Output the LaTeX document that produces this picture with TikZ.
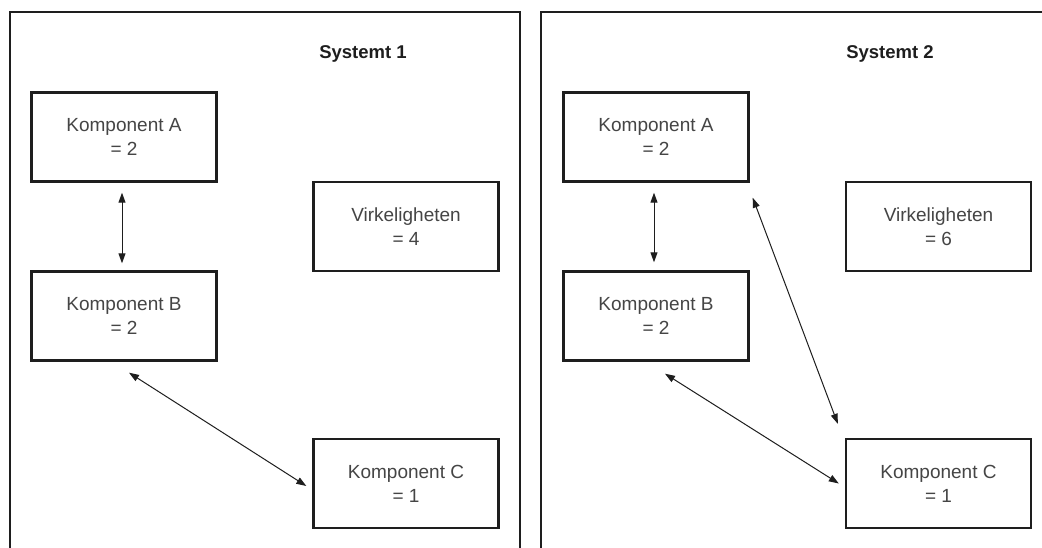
\documentclass[tikz,border=0pt]{standalone}
\usepackage{fontspec}
\setmainfont{Liberation Sans}
\usetikzlibrary{arrows.meta}
\definecolor{inkline}{HTML}{1E1E1E}
\definecolor{inktext}{HTML}{454545}
\begin{document}
\begin{tikzpicture}[x=1pt,y=-1pt,
  panel/.style={draw=inkline,line width=2.6pt},
  compbox/.style={draw=inkline,line width=2.4pt,rectangle,minimum width=185pt,minimum height=89pt,
    inner sep=0pt,align=center,text=inktext,font=\fontsize{19}{24}\selectfont},
  title/.style={text=inkline,font=\fontsize{18.5}{22}\selectfont\bfseries},
  link/.style={draw=inkline,line width=1pt,{Triangle[length=10pt,width=7pt]}-{Triangle[length=10pt,width=7pt]}}]
\useasboundingbox (0,0) rectangle (1042,548);
\fill[white] (0,0) rectangle (1042,548);
\clip (0,0) rectangle (1042,548);

% the two system frames, open at the lower and right page edges
\draw[panel] (10,570) -- (10,12) -- (520,12) -- (520,570);
\draw[panel] (541,570) -- (541,12) -- (1070,12);

% system 1
\node[title] (t1) at (363,54) {Systemt 1};
\node[compbox] (a1) at (124,137) {Komponent A\\= 2};
\node[compbox] (b1) at (124,316) {Komponent B\\= 2};
\node[compbox] (v1) at (406,226.5) {Virkeligheten\\= 4};
\node[compbox] (c1) at (406,483.5) {Komponent C\\= 1};
\draw[link] ([xshift=-2pt,yshift=-10pt]a1.south) -- ([xshift=-2pt,yshift=7pt]b1.north);
\draw[link] ([xshift=5pt,yshift=-11pt]b1.south) -- ([xshift=-6pt,yshift=-2.5pt]c1.west);

% system 2
\node[title] (t2) at (890,54) {Systemt 2};
\node[compbox] (a2) at (656,137) {Komponent A\\= 2};
\node[compbox] (b2) at (656,316) {Komponent B\\= 2};
\node[compbox] (v2) at (938.5,226.5) {Virkeligheten\\= 6};
\node[compbox] (c2) at (938.5,483.5) {Komponent C\\= 1};
\draw[link] ([xshift=-2pt,yshift=-10pt]a2.south) -- ([xshift=-2pt,yshift=8pt]b2.north);
\draw[link] ([xshift=3pt,yshift=-15pt]a2.south east) -- ([xshift=-7pt,yshift=14pt]c2.north west);
\draw[link] ([xshift=9pt,yshift=-12pt]b2.south) -- ([xshift=-6pt,yshift=0pt]c2.west);
\end{tikzpicture}
\end{document}
